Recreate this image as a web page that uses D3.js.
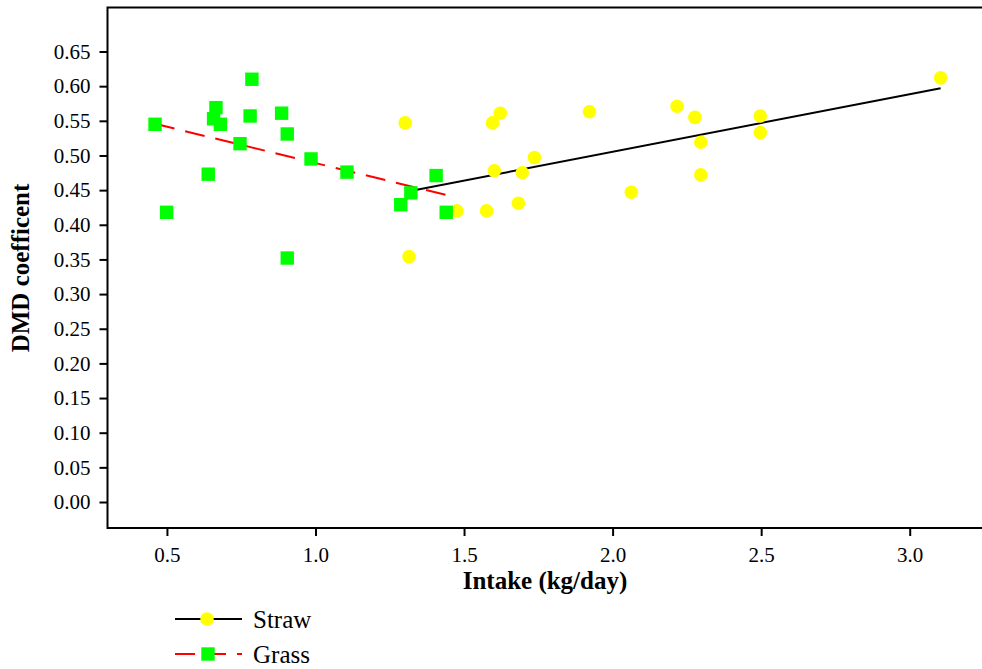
<!DOCTYPE html>
<html>
<head>
<meta charset="utf-8">
<script src="https://cdn.jsdelivr.net/npm/d3@7/dist/d3.min.js"></script>
<style>
  html, body { margin: 0; padding: 0; background: #fff; }
  svg { display: block; font-family: "Liberation Serif", "Times New Roman", serif; }
</style>
</head>
<body>
<svg id="chart" width="982" height="669"></svg>
<script>
// Straw intake (kg/day) and DMD coefficient
const strawX = [1.302, 1.315, 1.476, 1.576, 1.596, 1.622, 1.602, 1.696, 1.737, 1.683,
                1.922, 2.063, 2.217, 2.277, 2.297, 2.297, 2.497, 2.497, 3.104];
const strawY = [0.547, 0.354, 0.420, 0.420, 0.547, 0.561, 0.478, 0.475, 0.497, 0.431,
                0.563, 0.447, 0.571, 0.555, 0.519, 0.472, 0.557, 0.533, 0.612];

// Grass intake (kg/day) and DMD coefficient
const grassX = [0.460, 0.499, 0.639, 0.665, 0.657, 0.680, 0.746, 0.786, 0.780, 0.886,
                0.905, 0.905, 0.985, 1.106, 1.406, 1.321, 1.287, 1.440];
const grassY = [0.545, 0.418, 0.473, 0.569, 0.553, 0.545, 0.517, 0.610, 0.557, 0.561,
                0.531, 0.352, 0.495, 0.476, 0.471, 0.446, 0.429, 0.418];

// Linear fits: [intercept, slope]
const strawFit = [0.3391, 0.0831];
const grassFit = [0.5939, -0.1048];

// Axis ticks
const xTicks = [0.5, 1.0, 1.5, 2.0, 2.5, 3.0];
const yTicks = [0.00, 0.05, 0.10, 0.15, 0.20, 0.25, 0.30, 0.35, 0.40, 0.45, 0.50, 0.55, 0.60, 0.65];

const seriesNames = ["Straw", "Grass"];

const svg = d3.select("#chart");
const plotLeft = 107.5, plotRight = 984, plotTop = 7.5, plotBottom = 528;

const x = d3.scaleLinear().domain([0.3, 3.25]).range([plotLeft, plotRight]);
const y = d3.scaleLinear().domain([-0.0375, 0.7135]).range([plotBottom, plotTop]);

// Frame
svg.append("rect")
  .attr("x", plotLeft).attr("y", plotTop)
  .attr("width", plotRight - plotLeft).attr("height", plotBottom - plotTop)
  .attr("fill", "none").attr("stroke", "#000").attr("stroke-width", 2);

// Axes
const yAxis = svg.append("g")
  .attr("transform", `translate(${plotLeft},0)`)
  .call(d3.axisLeft(y).tickValues(yTicks).tickFormat(d3.format(".2f")).tickSize(8).tickPadding(9));
const xAxis = svg.append("g")
  .attr("transform", `translate(0,${plotBottom})`)
  .call(d3.axisBottom(x).tickValues(xTicks).tickFormat(d3.format(".1f")).tickSize(8).tickPadding(11));

[xAxis, yAxis].forEach(g => {
  g.select(".domain").remove();
  g.selectAll(".tick line").attr("stroke", "#000").attr("stroke-width", 2);
  g.selectAll(".tick text")
    .attr("fill", "#000")
    .style("font-family", "'Liberation Serif', 'Times New Roman', serif")
    .style("font-size", "21px");
});

// Axis titles
svg.append("text")
  .attr("x", 545).attr("y", 589)
  .attr("text-anchor", "middle")
  .style("font-size", "25px").style("font-weight", "bold")
  .text("Intake (kg/day)");

svg.append("text")
  .attr("transform", "translate(28.5,268) rotate(-90)")
  .attr("text-anchor", "middle")
  .style("font-size", "25px").style("font-weight", "bold")
  .text("DMD coefficent");

// Fitted lines, drawn over each series' intake range
const line = d3.line().x(d => x(d[0])).y(d => y(d[1]));
const fitPoints = (xs, fit) => d3.extent(xs).map(v => [v, fit[0] + fit[1] * v]);

svg.append("path")
  .datum(fitPoints(strawX, strawFit))
  .attr("d", line)
  .attr("fill", "none").attr("stroke", "#000").attr("stroke-width", 2);

svg.append("path")
  .datum(fitPoints(grassX, grassFit))
  .attr("d", line)
  .attr("fill", "none").attr("stroke", "#ff0000").attr("stroke-width", 2)
  .attr("stroke-dasharray", "20,11");

// Straw points
svg.append("g").selectAll("circle")
  .data(d3.zip(strawX, strawY))
  .join("circle")
  .attr("cx", d => x(d[0])).attr("cy", d => y(d[1]))
  .attr("r", 6.8)
  .attr("fill", "#ffff00");

// Grass points
const sq = 13.4;
svg.append("g").selectAll("rect")
  .data(d3.zip(grassX, grassY))
  .join("rect")
  .attr("x", d => x(d[0]) - sq / 2).attr("y", d => y(d[1]) - sq / 2)
  .attr("width", sq).attr("height", sq)
  .attr("fill", "#00ff00");

// Legend
const legend = svg.append("g");
const ly = [619, 654];
legend.append("line")
  .attr("x1", 175).attr("x2", 242).attr("y1", ly[0]).attr("y2", ly[0])
  .attr("stroke", "#000").attr("stroke-width", 2);
legend.append("circle").attr("cx", 207).attr("cy", ly[0]).attr("r", 6.8).attr("fill", "#ffff00");
legend.append("line")
  .attr("x1", 175).attr("x2", 242).attr("y1", ly[1]).attr("y2", ly[1])
  .attr("stroke", "#ff0000").attr("stroke-width", 2).attr("stroke-dasharray", "20,11");
legend.append("rect").attr("x", 208 - sq / 2).attr("y", ly[1] - sq / 2)
  .attr("width", sq).attr("height", sq).attr("fill", "#00ff00");

legend.selectAll("text.lab")
  .data(seriesNames)
  .join("text")
  .attr("class", "lab")
  .attr("x", 253)
  .attr("y", (d, i) => ly[i] + 9)
  .style("font-size", "25px")
  .text(d => d);
</script>
</body>
</html>
